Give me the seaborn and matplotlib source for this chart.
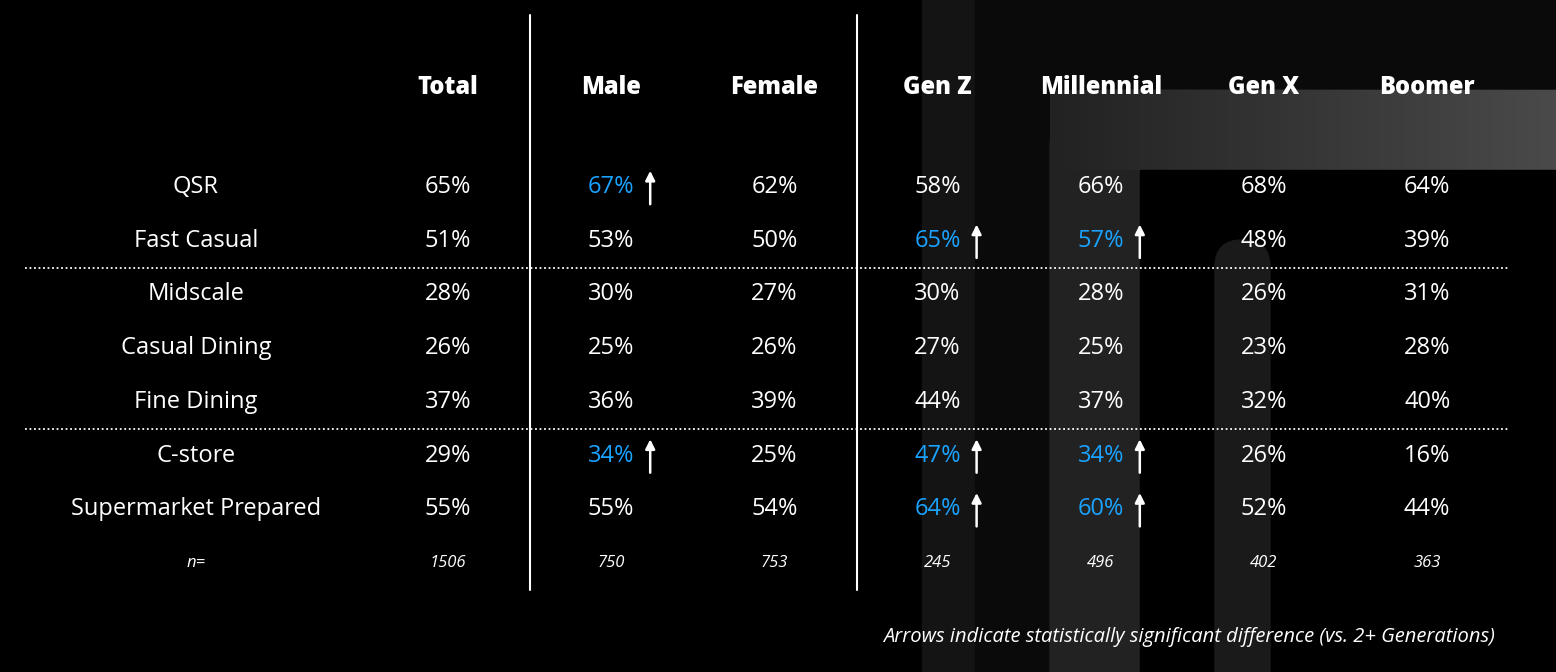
import matplotlib
matplotlib.use("Agg")
import matplotlib.pyplot as plt
import seaborn as sns
from matplotlib.patches import FancyBboxPatch, Rectangle
import numpy as np

sns.set_theme(style="white")
plt.rcParams["font.family"] = "Open Sans"

columns = ["Total", "Male", "Female", "Gen Z", "Millennial", "Gen X", "Boomer"]
rows = ["QSR", "Fast Casual", "Midscale", "Casual Dining", "Fine Dining", "C-store", "Supermarket Prepared"]
values = [
    [65, 67, 62, 58, 66, 68, 64],
    [51, 53, 50, 65, 57, 48, 39],
    [28, 30, 27, 30, 28, 26, 31],
    [26, 25, 26, 27, 25, 23, 28],
    [37, 36, 39, 44, 37, 32, 40],
    [29, 34, 25, 47, 34, 26, 16],
    [55, 55, 54, 64, 60, 52, 44],
]
significant = [(0, 1), (1, 3), (1, 4), (5, 1), (5, 3), (5, 4), (6, 3), (6, 4)]
n_values = [1506, 750, 753, 245, 496, 402, 363]

fig = plt.figure(figsize=(15.56, 6.72), dpi=100, facecolor="black")
ax = fig.add_axes([0, 0, 1, 1])
ax.set_facecolor("black")
ax.set_xlim(0, 1556); ax.set_ylim(672, 0); ax.axis("off")

# decorative background
ax.add_patch(Rectangle((922, 0), 53, 672, color="#141414", zorder=0))
ax.add_patch(Rectangle((975, 0), 600, 672, color="#0a0a0a", zorder=0))
ax.add_patch(FancyBboxPatch((1050, 90), 600, 700, boxstyle="round,pad=0,rounding_size=60",
                            color="#222222", zorder=0.2))
grad = np.linspace(0, 1, 200)[None, :]
ax.imshow(grad, extent=(1050, 1556, 170, 90), cmap=matplotlib.colors.LinearSegmentedColormap.from_list(
    "g", ["#222222", "#4a4a4a"]), aspect="auto", zorder=0.3)
ax.add_patch(Rectangle((1140, 170), 500, 600, color="black", zorder=0.6))
ax.add_patch(FancyBboxPatch((1215, 240), 55, 500, boxstyle="round,pad=0,rounding_size=27",
                            color="#1a1a1a", zorder=0.7))
ax.set_xlim(0, 1556); ax.set_ylim(672, 0)

x0, dx = 448, 163.2
y0, dy = 187, 53.7
label_x = 196
blue = "#1aa3ff"

for j, c in enumerate(columns):
    ax.text(x0 + j * dx, 88, c, color="white", fontsize=17, fontweight="heavy", ha="center", va="center")
for i, r in enumerate(rows):
    y = y0 + i * dy
    ax.text(label_x, y, r, color="white", fontsize=17, ha="center", va="center")
    for j, v in enumerate(values[i]):
        x = x0 + j * dx
        sig = (i, j) in significant
        ax.text(x, y, f"{v}%", color=blue if sig else "white", fontsize=17, ha="center", va="center")
        if sig:
            ax.annotate("", xy=(x + 39, y - 19), xytext=(x + 39, y + 20),
                        arrowprops=dict(arrowstyle="-|>", color="white", lw=1.8, mutation_scale=14))
yn = y0 + len(rows) * dy
ax.text(label_x, yn, "n=", color="white", fontsize=12, style="italic", ha="center", va="center")
for j, n in enumerate(n_values):
    ax.text(x0 + j * dx, yn, str(n), color="white", fontsize=12, style="italic", ha="center", va="center")

for xv in (530, 857):
    ax.plot([xv, xv], [15, 590], color="white", lw=1.5)
for yl in (y0 + 1.5 * dy, y0 + 4.5 * dy):
    ax.plot([25, 1510], [yl, yl], color="white", lw=1.3, ls=(0, (1, 1.5)))

ax.text(1495, 637, "Arrows indicate statistically significant difference (vs. 2+ Generations)",
        color="white", fontsize=14.5, style="italic", ha="right", va="center")

fig.savefig("out.png", dpi=100, facecolor="black")
